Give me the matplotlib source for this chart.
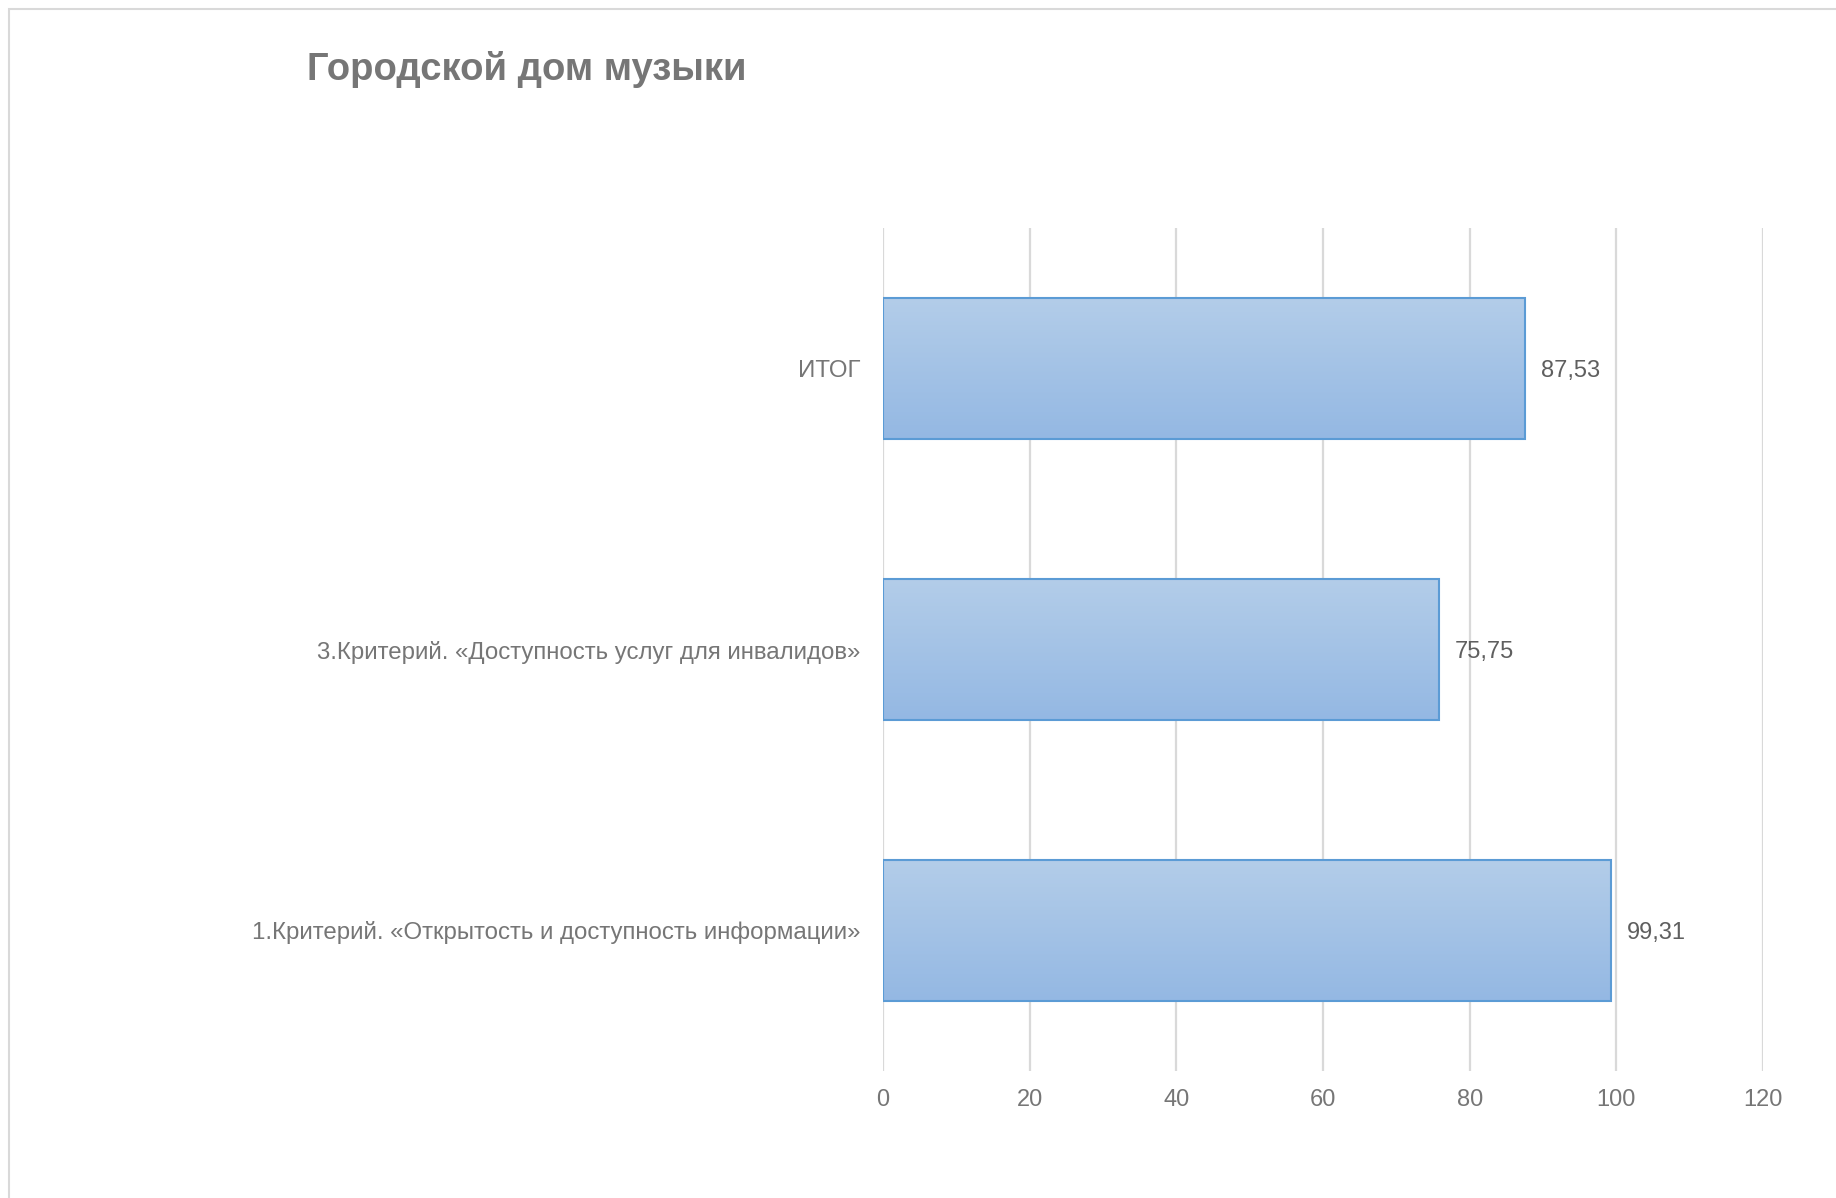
import numpy as np
import matplotlib
matplotlib.use('Agg')
import matplotlib.pyplot as plt
from matplotlib.patches import Rectangle

plt.rcParams['font.family'] = ['Liberation Sans', 'DejaVu Sans']

categories = ['1.Критерий. «Открытость и доступность информации»',
              '3.Критерий. «Доступность услуг для инвалидов»',
              'ИТОГ']
values = [99.31, 75.75, 87.53]
value_labels = ['99,31', '75,75', '87,53']
xticks = [0, 20, 40, 60, 80, 100, 120]

text_color = '#767676'
label_color = '#5f5f5f'

fig = plt.figure(figsize=(18.36, 11.98), dpi=100)
W, H = 1836, 1198
# plot area in pixels: x 883..1763, y 228..1071
ax = fig.add_axes([883 / W, 1 - 1071 / H, (1763 - 883) / W, (1071 - 228) / H])

ypos = np.arange(len(categories))
bars = ax.barh(ypos, values, height=0.5, color='none', edgecolor='#5b9bd5',
               linewidth=1.5, zorder=3)

# vertical gradient inside each bar
grad = np.linspace(0, 1, 256).reshape(-1, 1)
cmap = matplotlib.colors.LinearSegmentedColormap.from_list('g', ['#b3cde9', '#94b8e3'])
for b in bars:
    x0, y0 = b.get_x(), b.get_y()
    w, h = b.get_width(), b.get_height()
    im = ax.imshow(grad, extent=[x0, x0 + w, y0, y0 + h], origin='upper',
                   cmap=cmap, aspect='auto', zorder=2)
    im.set_clip_path(Rectangle((x0, y0), w, h, transform=ax.transData))

for y, v, lab in zip(ypos, values, value_labels):
    ax.annotate(lab, (v, y), xytext=(11.5, -1.5), textcoords='offset points',
                va='center', ha='left', fontsize=17, color=label_color)

ax.set_xlim(0, 120)
ax.set_ylim(-0.5, 2.5)
ax.set_xticks(xticks)
ax.set_xticklabels([str(t) for t in xticks])
ax.set_yticks(ypos)
ax.set_yticklabels(categories, fontsize=17.3)
ax.tick_params(axis='both', length=0, colors=text_color)
ax.tick_params(axis='x', pad=13, labelsize=17)
ax.tick_params(axis='y', pad=16)
ax.grid(axis='x', color='#d9d9d9', linewidth=1.6, zorder=0)
ax.set_axisbelow(True)
for s in ax.spines.values():
    s.set_visible(False)

fig.text(307 / W, 1 - 70 / H, 'Городской дом музыки', fontsize=27.5,
         fontweight='bold', color=text_color, ha='left', va='center')

# outer chart border
fig.patches.append(Rectangle((9 / W, -0.01), 1.1, 1 - 9 / H + 0.01,
                             transform=fig.transFigure, fill=False,
                             edgecolor='#d9d9d9', linewidth=1.5))

fig.savefig('out.png', dpi=100)
